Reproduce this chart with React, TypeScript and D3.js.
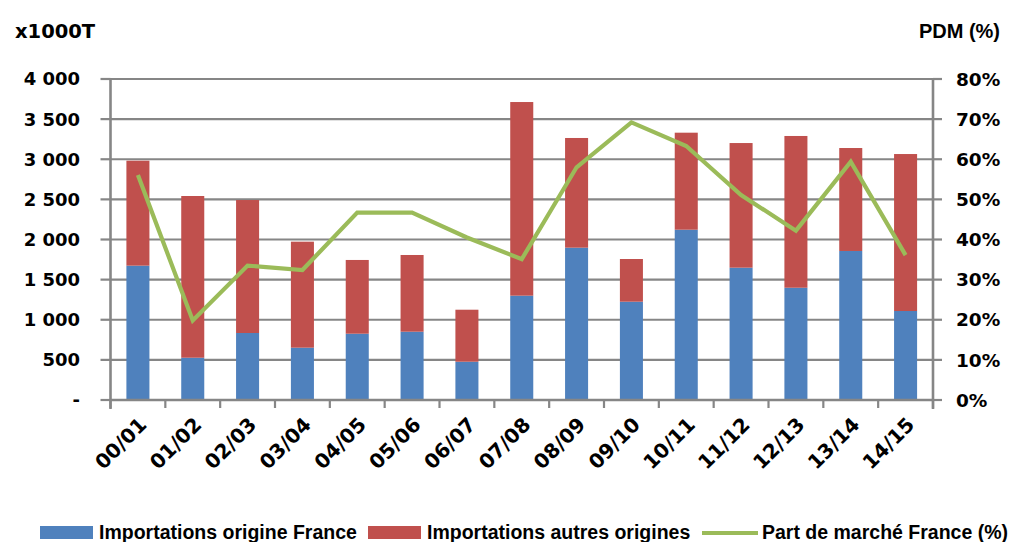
import React from "react";
import * as d3 from "d3";

const categories = ["00/01","01/02","02/03","03/04","04/05","05/06","06/07","07/08","08/09","09/10","10/11","11/12","12/13","13/14","14/15"];
const totals = [2982, 2542, 2492, 1973, 1745, 1807, 1125, 3713, 3265, 1757, 3331, 3202, 3290, 3140, 3065];
const franceImports = [1674, 527, 835, 652, 826, 851, 477, 1300, 1898, 1225, 2122, 1649, 1399, 1857, 1109];
const otherImports = totals.map((t, i) => t - franceImports[i]);
const marketShare = [0.561, 0.198, 0.335, 0.324, 0.467, 0.467, 0.405, 0.351, 0.580, 0.692, 0.633, 0.511, 0.422, 0.594, 0.361];
const leftTicks = [0, 500, 1000, 1500, 2000, 2500, 3000, 3500, 4000];
const rightTicks = [0, 0.1, 0.2, 0.3, 0.4, 0.5, 0.6, 0.7, 0.8];
const legendItems = ["Importations origine France", "Importations autres origines", "Part de marché France (%)"];

const BLUE = "#4F81BD";
const RED = "#C0504D";
const GREEN = "#9BBB59";
const GRID = "#868686";

const W = 1010, H = 542;
const X0 = 110.5, X1 = 933, Y0 = 400, Y1 = 79;

const fmtLeft = (v: number) => (v === 0 ? "-" : d3.format(",")(v).replace(/,/g, "\u00a0"));
const fmtRight = (v: number) => `${Math.round(v * 100)}%`;

export default function App() {
  const x = d3.scaleBand<string>().domain(categories).range([X0, X1]).paddingInner(0.58).paddingOuter(0.29);
  const y = d3.scaleLinear().domain([0, 4000]).range([Y0, Y1]);
  const y2 = d3.scaleLinear().domain([0, 0.8]).range([Y0, Y1]);
  const step = x.step();
  const cx = (c: string) => (x(c) as number) + x.bandwidth() / 2;
  const line = d3.line<number>().x((_, i) => cx(categories[i])).y((d) => y2(d));
  const stack = d3.stack<number>().keys(["fr", "other"]).value((i, k) => (k === "fr" ? franceImports[i] : otherImports[i]));
  const series = stack(categories.map((_, i) => i) as any);
  const colors = [BLUE, RED];
  const boundaries = d3.range(categories.length + 1).map((i) => X0 + i * step);

  const numFont = "'DejaVu Sans', sans-serif";
  const txtFont = "'Liberation Sans', Arial, sans-serif";

  return (
    <svg width={W} height={H} style={{ position: "absolute", left: 0, top: 0, background: "#fff" }}>
      {leftTicks.map((t) => (
        <line key={"g" + t} x1={X0} x2={X1} y1={y(t)} y2={y(t)} stroke={GRID} strokeWidth={2.2} />
      ))}
      {series.map((s, si) =>
        s.map((d, i) => (
          <rect key={si + "-" + i} x={x(categories[i])} width={x.bandwidth()} y={y(d[1])} height={y(d[0]) - y(d[1])} fill={colors[si]} />
        ))
      )}
      <line x1={X0} x2={X0} y1={Y1 - 1} y2={Y0 + 9} stroke={GRID} strokeWidth={2.6} />
      <line x1={X1} x2={X1} y1={Y1 - 1} y2={Y0 + 9} stroke={GRID} strokeWidth={2.6} />
      <line x1={X0} x2={X1} y1={Y0} y2={Y0} stroke={GRID} strokeWidth={2.6} />
      {leftTicks.map((t) => (
        <g key={"l" + t}>
          <line x1={X0 - 10} x2={X0} y1={y(t)} y2={y(t)} stroke={GRID} strokeWidth={2.2} />
          <text x={80} y={y(t)} dy="0.36em" textAnchor="end" fontFamily={numFont} fontWeight="bold" fontSize={18} fill="#000">
            {fmtLeft(t)}
          </text>
        </g>
      ))}
      {rightTicks.map((t) => (
        <g key={"r" + t}>
          <line x1={X1} x2={X1 + 9} y1={y2(t)} y2={y2(t)} stroke={GRID} strokeWidth={2.2} />
          <text x={956} y={y2(t)} dy="0.36em" textAnchor="start" fontFamily={numFont} fontWeight="bold" fontSize={18.5} fill="#000">
            {fmtRight(t)}
          </text>
        </g>
      ))}
      {boundaries.map((b, i) => (
        <line key={"b" + i} x1={b} x2={b} y1={Y0} y2={Y0 + 8} stroke={GRID} strokeWidth={2.2} />
      ))}
      {categories.map((c) => (
        <text key={"c" + c} transform={`translate(${cx(c) + 10},${Y0 + 26}) rotate(-45)`} textAnchor="end" fontFamily={numFont} fontWeight="bold" fontSize={20} fill="#000">
          {c}
        </text>
      ))}
      <path d={line(marketShare) || ""} fill="none" stroke={GREEN} strokeWidth={4.2} strokeLinejoin="miter" />
      <text x={15} y={38} fontFamily={numFont} fontWeight="bold" fontSize={19.5} fill="#000">x1000T</text>
      <text x={1000} y={38} textAnchor="end" fontFamily={txtFont} fontWeight="bold" fontSize={20} fill="#000">PDM (%)</text>
      <rect x={40} y={526} width={53} height={13} fill={BLUE} />
      <text x={99} y={539} fontFamily={txtFont} fontWeight="bold" fontSize={19.5} fill="#000">{legendItems[0]}</text>
      <rect x={368} y={526} width={53} height={13} fill={RED} />
      <text x={427} y={539} fontFamily={txtFont} fontWeight="bold" fontSize={19.5} fill="#000">{legendItems[1]}</text>
      <line x1={702} x2={758} y1={533} y2={533} stroke={GREEN} strokeWidth={4.2} />
      <text x={762} y={539} fontFamily={txtFont} fontWeight="bold" fontSize={19.5} fill="#000">{legendItems[2]}</text>
    </svg>
  );
}
